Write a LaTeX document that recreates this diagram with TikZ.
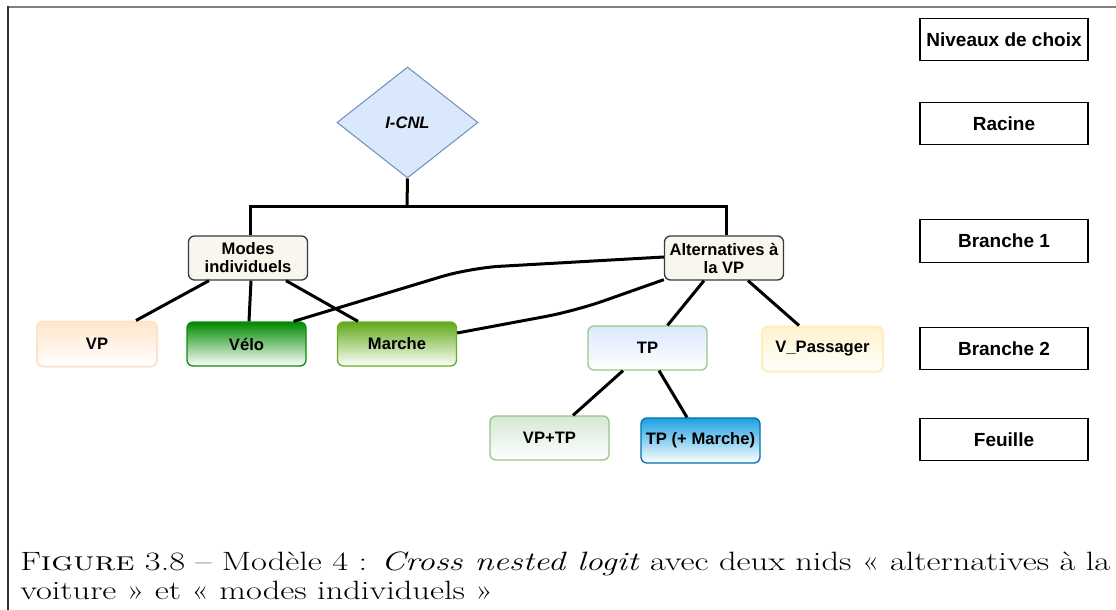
\documentclass[tikz,border=0pt]{standalone}
\usepackage{fontspec}
\newfontfamily\diafont{Liberation Sans}
\usetikzlibrary{shapes.geometric}
\definecolor{nestfill}{HTML}{F9F7ED}
\definecolor{neststroke}{HTML}{36393D}
\definecolor{dfill}{HTML}{DAE8FC}
\definecolor{dstroke}{HTML}{6C8EBF}
\definecolor{vptop}{HTML}{FFE6CC}
\definecolor{vpstroke}{HTML}{FCE3CC}
\definecolor{velotop}{HTML}{008A00}
\definecolor{velostroke}{HTML}{0A8A0A}
\definecolor{martop}{HTML}{60A917}
\definecolor{marstroke}{HTML}{66AD1F}
\definecolor{tptop}{HTML}{DAE8FC}
\definecolor{tpstroke}{HTML}{9CC68A}
\definecolor{vpasstop}{HTML}{FFF2CC}
\definecolor{vpassstroke}{HTML}{FFEDBF}
\definecolor{vptptop}{HTML}{D5E8D4}
\definecolor{vptpstroke}{HTML}{97C483}
\definecolor{tpmtop}{HTML}{1BA1E2}
\definecolor{tpmstroke}{HTML}{006EAF}
\definecolor{frametop}{HTML}{7F7F7F}
\definecolor{frameleft}{HTML}{333333}
\newsavebox\mycapbox
\newlength\mycapwd
\tikzset{
  box/.style={draw, rounded corners=6pt, line width=1.3pt, minimum width=119pt,
    minimum height=44pt, inner sep=0pt, align=center,
    font=\diafont\bfseries\fontsize{16.6}{18}\selectfont},
  nest/.style={box, fill=nestfill, draw=neststroke},
  alt/.style={box, top color=#1top, bottom color=white, draw=#1stroke},
  levelbox/.style={draw, line width=1.3pt, minimum width=168pt, minimum height=42.5pt,
    inner sep=0pt, font=\diafont\bfseries\fontsize{19}{21}\selectfont},
  link/.style={line width=3pt, black},
  curvelink/.style={link, rounded corners=30pt},
  captext/.style={anchor=base west, inner sep=0pt, xscale=\capscale, font=\fontsize{26.5}{30}\selectfont},
}
\begin{document}
\sbox\mycapbox{\fontsize{26.5}{30}\selectfont F\textsc{igure} 3.8 -- Modèle 4 : \textit{Cross nested logit} avec deux nids « alternatives à la}%
\setlength\mycapwd{\wd\mycapbox}%
\pgfmathsetmacro{\capscale}{1090/\mycapwd}%
\begin{tikzpicture}[x=1pt, y=-1pt]
\useasboundingbox (0,0) rectangle (1116,610);
% frame
\draw[frametop, line width=2pt] (8,7) -- (1116,7);
\draw[frameleft, line width=2pt] (8,6) -- (8,610);

% root
\node[diamond, draw=dstroke, fill=dfill, line width=1pt, minimum width=141pt,
  minimum height=111pt, aspect=1.27, inner sep=0pt,
  font=\diafont\bfseries\itshape\fontsize{16.6}{18}\selectfont] (icnl) at (407.5,122.5) {I-CNL};

% nests
\node[nest] (modes) at (248,258) {Modes\\individuels};
\node[nest] (alt) at (724,258) {Alternatives à\\la VP};

% alternatives
\node[alt=vp, minimum width=120pt, minimum height=45pt, line width=2pt] (vp) at (97,344) {VP};
\node[alt=velo] (velo) at (246.5,344) {Vélo};
\node[alt=mar] (marche) at (397,344) {Marche};
\node[alt=tp] (tp) at (647.5,348) {TP};
\node[alt=vpass, minimum width=121pt, minimum height=45pt, line width=2pt] (vpass) at (822.5,349) {V\_Passager};
\node[alt=vptp] (vptp) at (549.5,438) {VP+TP};
\node[alt=tpm, minimum height=45pt] (tpm) at (700.5,440.5) {TP (+ Marche)};

% levels
\node[levelbox] (lv0) at (1004,39.5) {Niveaux de choix};
\node[levelbox] (lv1) at (1004,123.5) {Racine};
\node[levelbox] (lv2) at (1004,241) {Branche 1};
\node[levelbox] (lv3) at (1004,348.5) {Branche 2};
\node[levelbox] (lv4) at (1004,439.5) {Feuille};

% connectors
\coordinate (j) at (407,206);
\draw[link] (icnl.south) -- (j);
\draw[link] ([xshift=2pt]modes.north) -- ([xshift=2pt]modes.north |- j) -- ([xshift=2pt]alt.north |- j) -- ([xshift=2pt]alt.north);
\draw[link] ([xshift=-39pt]modes.south) -- ([xshift=39pt]vp.north);
\draw[link] ([xshift=3pt]modes.south) -- ([xshift=2.5pt]velo.north);
\draw[link] ([xshift=38pt]modes.south) -- ([xshift=-39pt]marche.north);
\draw[link] ([xshift=-20pt]alt.south) -- ([xshift=20pt]tp.north);
\draw[link] ([xshift=24pt]alt.south) -- ([xshift=-23.5pt]vpass.north);
\draw[link] ([xshift=-24.5pt]tp.south) -- ([xshift=23.5pt]vptp.north);
\draw[link] ([xshift=11.5pt]tp.south) -- ([xshift=-13.5pt]tpm.north);
\coordinate (b1) at (470,268);
\coordinate (b2) at (575,311);
\draw[curvelink] ([xshift=-13pt]velo.north east) -- (b1) -- ([yshift=1pt]alt.west);
\draw[curvelink] ([yshift=11pt]marche.east) -- (b2) -- ([yshift=1pt]alt.south west);

% caption
\node[captext] (cap1) at (20,570)
  {F\textsc{igure} 3.8 -- Modèle 4 : \textit{Cross nested logit} avec deux nids « alternatives à la};
\node[captext] (cap2) at (20,599)
  {voiture » et « modes individuels »};
\end{tikzpicture}
\end{document}
